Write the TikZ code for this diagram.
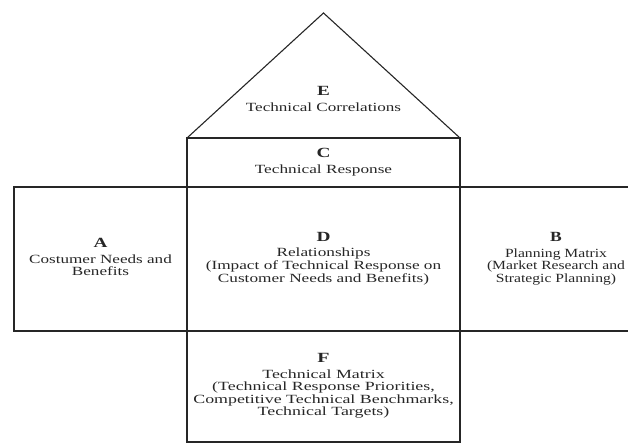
\documentclass[tikz,border=0pt]{standalone}
\usepackage{fontspec}
\usepackage{graphicx}
\setmainfont{Liberation Serif}
\newcommand\hd[1]{{\fontsize{14}{14}\selectfont\bfseries #1}\\[3pt]}
\newcommand\lines[2][1.38]{\scalebox{#1}[1]{\fontsize{12.5}{12.5}\selectfont\begin{tabular}{@{}c@{}}#2\end{tabular}}}
\tikzset{
  edge/.style={draw=black!85, line width=1.1pt},
  lbl/.style={align=center, inner sep=0pt, outer sep=0pt, text=black!85},
  box/.style={edge, lbl, rectangle},
}
\begin{document}
\begin{tikzpicture}[x=1pt,y=-1pt]
\useasboundingbox (0,0) rectangle (628,443);
% boxes
\node[box, minimum width=273pt, minimum height=49pt] (C) at (323.5,162.5)
  {\lines{\hd{C}Technical Response}};
\node[box, minimum width=273pt, minimum height=144pt] (D) at (323.5,259)
  {\lines{\hd{D}Relationships\\(Impact of Technical Response on\\Customer Needs and Benefits)}};
\node[box, minimum width=173pt, minimum height=144pt] (A) at (100.5,259)
  {\lines[1.37]{\hd{A}Costumer Needs and\\Benefits}};
\node[box, minimum width=273pt, minimum height=111pt] (F) at (323.5,386.5)
  {\lines[1.43]{\hd{F}Technical Matrix\\(Technical Response Priorities,\\Competitive Technical Benchmarks,\\Technical Targets)}};
% B region (open on the right)
\coordinate (Bend1) at (628,187);
\coordinate (Bend2) at (628,331);
\draw[edge] (D.north east) -- (Bend1);
\draw[edge] (D.south east) -- (Bend2);
\node[lbl] (B) at (556,259.5)
  {\lines[1.25]{\hd{B}Planning Matrix\\(Market Research and\\Strategic Planning)}};
% roof
\coordinate (apex) at (323.5,13);
\draw[edge, line join=miter] (C.north west) -- (apex) -- (C.north east);
\node[lbl] (E) at (323.5,101) {\lines[1.37]{\hd{E}Technical Correlations}};
\end{tikzpicture}
\end{document}
